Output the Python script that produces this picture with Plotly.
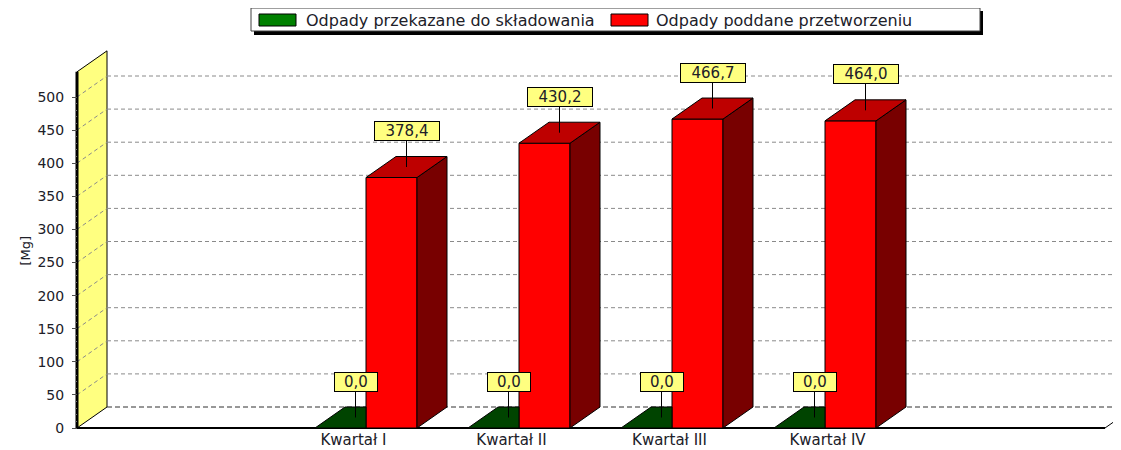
import plotly.graph_objects as go

# ---------------- data ----------------
categories = ["Kwartał I", "Kwartał II", "Kwartał III", "Kwartał IV"]
landfill = [0.0, 0.0, 0.0, 0.0]          # Odpady przekazane do składowania
processed = [378.4, 430.2, 466.7, 464.0]  # Odpady poddane przetworzeniu
series_names = ["Odpady przekazane do składowania", "Odpady poddane przetworzeniu"]
y_ticks = [0, 50, 100, 150, 200, 250, 300, 350, 400, 450, 500]
y_minor = list(range(0, 501, 10))
y_title = "[Mg]"

# ---------------- geometry / style ----------------
OFF = 8                   # page body margin of the html page
SCR_W, SCR_H = 1121, 450
FIG_W, FIG_H = SCR_W - OFF, SCR_H - OFF
PX_CAT = 153.0            # pixels per category step
PX_VAL = 331.0 / 500.0    # pixels per value unit
X0_PX, Y0_PX = 366.0, 428.0   # screen pixel of category 0 / value 0
L, T, B = 40, 45, 432         # screen pixel plot edges
DEPTH_X = 30.0 / PX_CAT
DEPTH_Y = 21.0 / PX_VAL
BAR_W = 51.0 / PX_CAT
WALL_X = (77.0 - X0_PX) / PX_CAT
WALL_TOP = 538.0
FLOOR_END = (1105.0 - X0_PX) / PX_CAT
LABEL_STEP = 158.0 / PX_CAT
LABEL_SHIFT = (353.5 - X0_PX) / PX_CAT

x_range = [(L - X0_PX) / PX_CAT, (SCR_W - X0_PX) / PX_CAT]
y_range = [(Y0_PX - B) / PX_VAL, (Y0_PX - T) / PX_VAL]

FONT = "DejaVu Sans"
TXT = "#202028"
RED, RED_TOP, RED_SIDE = "#FF0000", "#BE0000", "#780000"
GREEN, GREEN_TOP = "#008000", "#004400"
WALL = "#FFFF80"

idx = list(range(len(categories)))


def px2x(p):
    return (p - L) / (SCR_W - L)


def px2y(p):
    return (B - p) / (B - T)


fig = go.Figure()

# front faces
fig.add_trace(go.Bar(x=idx, y=landfill, width=BAR_W, offset=-BAR_W,
                     marker=dict(color=GREEN, line=dict(color="black", width=1)),
                     name=series_names[0], showlegend=False, hoverinfo="skip"))
fig.add_trace(go.Bar(x=idx, y=processed, width=BAR_W, offset=0,
                     marker=dict(color=RED, line=dict(color="black", width=1)),
                     name=series_names[1], showlegend=False, hoverinfo="skip"))


def poly_trace(polys, color):
    xs, ys = [], []
    for p in polys:
        for (a, b) in p:
            xs.append(a)
            ys.append(b)
        xs.append(p[0][0])
        ys.append(p[0][1])
        xs.append(None)
        ys.append(None)
    return go.Scatter(x=xs, y=ys, mode="lines", fill="toself", fillcolor=color,
                      line=dict(color="black", width=1), showlegend=False,
                      hoverinfo="skip")


# green top faces (right part hidden behind red front)
g_top = []
for i, v in zip(idx, landfill):
    g_top.append([(i - BAR_W, v), (i, v), (i, v + DEPTH_Y),
                  (i - BAR_W + DEPTH_X, v + DEPTH_Y)])
fig.add_trace(poly_trace(g_top, GREEN_TOP))

# red side and top faces
r_side, r_top = [], []
for i, v in zip(idx, processed):
    r_side.append([(i + BAR_W, 0), (i + BAR_W + DEPTH_X, DEPTH_Y),
                   (i + BAR_W + DEPTH_X, v + DEPTH_Y), (i + BAR_W, v)])
    r_top.append([(i, v), (i + BAR_W, v), (i + BAR_W + DEPTH_X, v + DEPTH_Y),
                  (i + DEPTH_X, v + DEPTH_Y)])
fig.add_trace(poly_trace(r_side, RED_SIDE))
fig.add_trace(poly_trace(r_top, RED_TOP))

# ---------------- background shapes (walls, grid, floor) ----------------
shapes = []
shapes.append(dict(type="path", xref="x", yref="y", layer="below",
                   path=f"M{WALL_X},0 L{WALL_X},{WALL_TOP} L{WALL_X + DEPTH_X},{WALL_TOP + DEPTH_Y} "
                        f"L{WALL_X + DEPTH_X},{DEPTH_Y} Z",
                   fillcolor=WALL, line=dict(color="black", width=1)))
for v in y_ticks:
    if v == 0:
        shapes.append(dict(type="line", xref="x", yref="y", layer="below",
                           x0=WALL_X + DEPTH_X, x1=FLOOR_END + DEPTH_X + 1,
                           y0=v + DEPTH_Y, y1=v + DEPTH_Y,
                           line=dict(color="#303030", width=1, dash="5px,3px")))
        continue
    shapes.append(dict(type="line", xref="x", yref="y", layer="below",
                       x0=WALL_X + DEPTH_X, x1=FLOOR_END + DEPTH_X + 1,
                       y0=v + DEPTH_Y, y1=v + DEPTH_Y,
                       line=dict(color="#8a8a8a", width=1, dash="4px,3px")))
    shapes.append(dict(type="line", xref="x", yref="y", layer="below",
                       x0=WALL_X, x1=WALL_X + DEPTH_X, y0=v, y1=v + DEPTH_Y,
                       line=dict(color="#8a8a8a", width=1, dash="4px,3px")))
shapes.append(dict(type="line", xref="x", yref="y", layer="below",
                   x0=WALL_X, x1=WALL_X, y0=0, y1=WALL_TOP,
                   line=dict(color="black", width=3)))
shapes.append(dict(type="line", xref="x", yref="y", layer="below",
                   x0=WALL_X, x1=FLOOR_END, y0=0, y1=0,
                   line=dict(color="black", width=2)))
shapes.append(dict(type="line", xref="x", yref="y", layer="below",
                   x0=FLOOR_END, x1=FLOOR_END + DEPTH_X, y0=0, y1=DEPTH_Y,
                   line=dict(color="black", width=1)))

# ---------------- custom legend ----------------
LG_L, LG_R, LG_T, LG_B = 251, 980, 8, 31
shapes.append(dict(type="rect", xref="paper", yref="paper", layer="above",
                   x0=px2x(LG_L + 3), x1=px2x(LG_R + 3), y0=px2y(LG_B + 4), y1=px2y(LG_T + 3),
                   fillcolor="black", line=dict(width=0)))
shapes.append(dict(type="rect", xref="paper", yref="paper", layer="above",
                   x0=px2x(LG_L), x1=px2x(LG_R), y0=px2y(LG_B), y1=px2y(LG_T),
                   fillcolor="white", line=dict(color="#404040", width=1)))
legend_items = [(series_names[0], GREEN, 259, 304), (series_names[1], RED, 611, 654)]
annotations = []
for name, col, sx, tx in legend_items:
    shapes.append(dict(type="rect", xref="paper", yref="paper", layer="above",
                       x0=px2x(sx), x1=px2x(sx + 37), y0=px2y(26), y1=px2y(14),
                       fillcolor=col, line=dict(color="black", width=1)))
    annotations.append(dict(xref="paper", yref="paper", x=px2x(tx), y=px2y(20),
                            xanchor="left", yanchor="middle", showarrow=False,
                            text=name, font=dict(family=FONT, size=16, color=TXT)))


def fmt(v):
    return f"{v:.1f}".replace(".", ",")


def add_label(xc, v):
    t = fmt(v)
    annotations.append(dict(x=xc, y=v + DEPTH_Y / 2, xref="x", yref="y",
                            text=t, showarrow=True, arrowhead=0, arrowwidth=1,
                            arrowcolor="black", ax=0, ay=-36,
                            bgcolor=WALL, bordercolor="black", borderwidth=1,
                            borderpad=1, width=11 * len(t) + 7, height=16,
                            font=dict(family=FONT, size=15, color=TXT)))


for i, v in zip(idx, landfill):
    add_label(i - BAR_W / 2 + DEPTH_X / 2, v)
for i, v in zip(idx, processed):
    add_label(i + BAR_W / 2 + DEPTH_X / 2, v)

annotations.append(dict(xref="paper", yref="paper", x=px2x(15), y=px2y(251),
                        text=y_title, textangle=-90, showarrow=False,
                        font=dict(family=FONT, size=13, color=TXT)))

fig.update_layout(
    width=FIG_W, height=FIG_H,
    margin=dict(l=L - OFF, r=0, t=T - OFF, b=SCR_H - B, autoexpand=False),
    paper_bgcolor="white", plot_bgcolor="white",
    barmode="overlay", showlegend=False,
    shapes=shapes, annotations=annotations,
    xaxis=dict(range=x_range, showgrid=False, zeroline=False, showline=False,
               tickmode="array",
               tickvals=[i * LABEL_STEP + LABEL_SHIFT for i in idx],
               ticktext=categories, ticks="", ticklabelstandoff=-3,
               tickfont=dict(family=FONT, size=15, color=TXT)),
    yaxis=dict(range=y_range, showgrid=False, zeroline=False, showline=False,
               anchor="free", position=px2x(77),
               tickmode="array", tickvals=y_ticks, ticks="outside", ticklen=5,
               tickcolor="#505050", ticklabelstandoff=5,
               minor=dict(tickvals=y_minor, ticks="outside", ticklen=2, tickcolor="#707070"),
               tickfont=dict(family=FONT, size=14, color=TXT)),
)

fig.write_html("out.html")
